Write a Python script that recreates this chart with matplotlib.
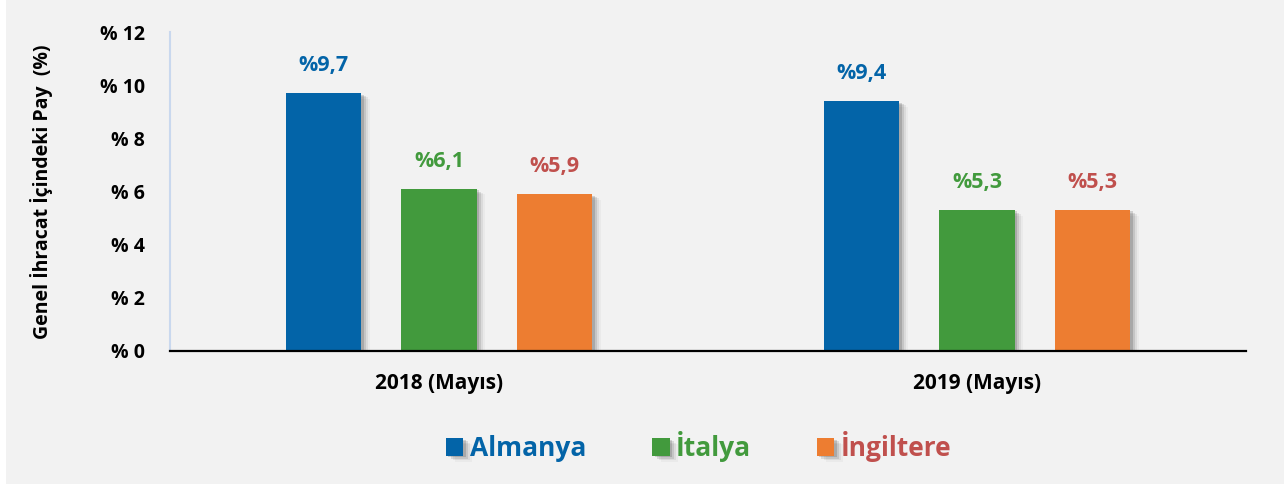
import numpy as np
import matplotlib
matplotlib.use("Agg")
from matplotlib import pyplot as plt
from matplotlib import patheffects as pe
from matplotlib.patches import Rectangle

# data
periods = ["2018 (Mayıs)", "2019 (Mayıs)"]
countries = ["Almanya", "İtalya", "İngiltere"]
almanya = [9.7, 9.4]
italya = [6.1, 5.3]
ingiltere = [5.9, 5.3]
y_ticks = [0, 2, 4, 6, 8, 10, 12]
y_tick_labels = ["% 0", "% 2", "% 4", "% 6", "% 8", "% 10", "% 12"]

bar_colors = ["#0364A8", "#429A3D", "#ED7D31"]
text_colors = ["#0364A8", "#429A3D", "#C0504D"]

plt.rcParams['font.family'] = ['Open Sans', 'DejaVu Sans']
plt.rcParams['font.weight'] = 'bold'


def main():
    fig = plt.figure(figsize=(12.84, 4.87), dpi=100, facecolor="white")
    fig.patches.append(Rectangle((6 / 1284, 3 / 487), 1, 1, transform=fig.transFigure,
                                 facecolor="#F2F2F2", edgecolor="none", zorder=-10))
    ax = fig.add_axes([170 / 1284, 1 - 351 / 487, 1076 / 1284, 319 / 487])
    ax.set_facecolor("none")

    x = np.arange(len(periods))
    step = 0.2147
    width = 0.141
    shadow = [pe.SimplePatchShadow(offset=(1.5, -1), shadow_rgbFace="black", alpha=0.14),
              pe.SimplePatchShadow(offset=(3, -2), shadow_rgbFace="black", alpha=0.10),
              pe.SimplePatchShadow(offset=(4.5, -3), shadow_rgbFace="black", alpha=0.06),
              pe.SimplePatchShadow(offset=(6, -4), shadow_rgbFace="black", alpha=0.03),
              pe.Normal()]
    series = [almanya, italya, ingiltere]
    for i, vals in enumerate(series):
        pos = x + (i - 1) * step
        bars = ax.bar(pos, vals, width, color=bar_colors[i], zorder=3, label=countries[i])
        for b in bars:
            b.set_path_effects(shadow)
        for p, v in zip(pos, vals):
            ax.annotate("%" + f"{v:.1f}".replace(".", ","), (p, v),
                        xytext=(0, 12), textcoords="offset points",
                        ha="center", va="bottom", fontsize=15.5, fontweight="bold",
                        color=text_colors[i])

    ax.set_xlim(-0.5, 1.5)
    ax.set_ylim(0, 12)
    ax.set_yticks(y_ticks)
    ax.set_yticklabels(y_tick_labels, fontsize=14, fontweight="bold")
    ax.set_xticks(x)
    ax.set_xticklabels(periods, fontsize=15, fontweight="bold")
    ax.tick_params(axis="both", length=0)
    ax.tick_params(axis="y", pad=18)
    ax.tick_params(axis="x", pad=16)
    for s in ["top", "right"]:
        ax.spines[s].set_visible(False)
    ax.spines["left"].set_color("#C9D8EE")
    ax.spines["left"].set_linewidth(1.5)
    ax.spines["bottom"].set_color("black")
    ax.spines["bottom"].set_linewidth(1.6)
    ax.spines["bottom"].set_zorder(5)

    fig.text(42 / 1284, 1 - 192 / 487, "Genel İhracat İçindeki Pay  (%)", rotation=90,
             ha="center", va="center", fontsize=14, fontweight="bold")

    ax.legend(loc="center", bbox_to_anchor=(699 / 1284, 1 - 447 / 487),
              bbox_transform=fig.transFigure, ncol=3, frameon=False,
              labelcolor=text_colors, prop={"size": 19, "weight": "bold"},
              handlelength=0.65, handleheight=0.65, handletextpad=0.25,
              columnspacing=2.5)

    fig.savefig("out.png", dpi=100, facecolor=fig.get_facecolor())


if __name__ == '__main__':
    main()
